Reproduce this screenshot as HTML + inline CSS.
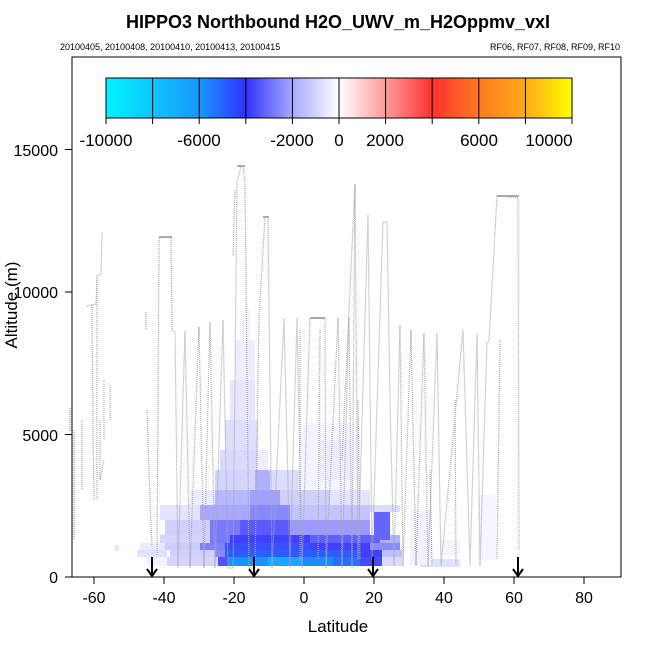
<!DOCTYPE html>
<html><head><meta charset="utf-8"><style>
html,body{margin:0;padding:0;background:#fff;}
svg{display:block;font-family:"Liberation Sans",sans-serif;}
</style></head><body>
<svg width="650" height="650" viewBox="0 0 650 650" xmlns="http://www.w3.org/2000/svg">
<defs>
<linearGradient id="cb" x1="106" x2="572" y1="0" y2="0" gradientUnits="userSpaceOnUse">
<stop offset="0" stop-color="#00f4ff"/>
<stop offset="0.2" stop-color="#1898ff"/>
<stop offset="0.3" stop-color="#3030ff"/>
<stop offset="0.4" stop-color="#a8a8ff"/>
<stop offset="0.5" stop-color="#ffffff"/>
<stop offset="0.6" stop-color="#ff9a9a"/>
<stop offset="0.7" stop-color="#ff3030"/>
<stop offset="0.8" stop-color="#ff7a20"/>
<stop offset="0.9" stop-color="#ffaa18"/>
<stop offset="1" stop-color="#ffff00"/>
</linearGradient>
</defs>
<rect width="650" height="650" fill="#fff"/>
<text x="338" y="28" text-anchor="middle" font-size="18" font-weight="bold">HIPPO3 Northbound H2O_UWV_m_H2Oppmv_vxI</text>
<text x="60" y="50" font-size="9">20100405, 20100408, 20100410, 20100413, 20100415</text>
<text x="620" y="50" text-anchor="end" font-size="9">RF06, RF07, RF08, RF09, RF10</text>

<!-- heatmap -->
<g shape-rendering="crispEdges">
<rect x="115" y="545" width="4" height="6" fill="#e6e6ff"/>
<rect x="137" y="550" width="30" height="7" fill="#e0e0ff"/>
<rect x="147" y="557" width="20" height="9" fill="#f2f2ff"/>
<rect x="167" y="557" width="51" height="9" fill="#d4d4ff"/>
<rect x="218" y="557" width="10" height="9" fill="#5050ff"/>
<rect x="228" y="557" width="40" height="9" fill="#2090ff"/>
<rect x="268" y="557" width="35" height="9" fill="#18a8ff"/>
<rect x="303" y="557" width="30" height="9" fill="#2088ff"/>
<rect x="333" y="557" width="27" height="9" fill="#2a6cff"/>
<rect x="360" y="557" width="22" height="9" fill="#4848ff"/>
<rect x="382" y="557" width="20" height="9" fill="#dcdcff"/>
<rect x="420" y="559" width="40" height="8" fill="#e0e0ff"/>
<rect x="170" y="550" width="45" height="7" fill="#d0d0ff"/>
<rect x="215" y="550" width="10" height="7" fill="#8888ff"/>
<rect x="225" y="550" width="135" height="7" fill="#2a5cff"/>
<rect x="360" y="550" width="22" height="7" fill="#4040ff"/>
<rect x="382" y="550" width="20" height="7" fill="#c0c0ff"/>
<rect x="140" y="543" width="25" height="7" fill="#eaeaff"/>
<rect x="165" y="543" width="35" height="7" fill="#ccccff"/>
<rect x="200" y="543" width="25" height="7" fill="#8080ff"/>
<rect x="225" y="543" width="85" height="7" fill="#3a50ff"/>
<rect x="310" y="543" width="60" height="7" fill="#4040ff"/>
<rect x="370" y="543" width="30" height="7" fill="#8a8aff"/>
<rect x="160" y="535" width="50" height="8" fill="#d4d4ff"/>
<rect x="210" y="535" width="20" height="8" fill="#7878ff"/>
<rect x="230" y="535" width="80" height="8" fill="#4040ff"/>
<rect x="310" y="535" width="70" height="8" fill="#6060ff"/>
<rect x="380" y="535" width="20" height="8" fill="#b0b0ff"/>
<rect x="165" y="520" width="45" height="15" fill="#d0d0ff"/>
<rect x="210" y="520" width="30" height="15" fill="#7a7aff"/>
<rect x="240" y="520" width="50" height="15" fill="#5a5aff"/>
<rect x="290" y="520" width="80" height="15" fill="#9a9aff"/>
<rect x="374" y="512" width="16" height="28" fill="#6666ff"/>
<rect x="370" y="505" width="30" height="7" fill="#dcdcff"/>
<rect x="160" y="505" width="40" height="15" fill="#e4e4ff"/>
<rect x="200" y="505" width="50" height="15" fill="#a8a8ff"/>
<rect x="250" y="505" width="40" height="15" fill="#8888ff"/>
<rect x="290" y="505" width="80" height="15" fill="#c4c4ff"/>
<rect x="190" y="490" width="25" height="15" fill="#ececff"/>
<rect x="215" y="490" width="35" height="15" fill="#b8b8ff"/>
<rect x="250" y="490" width="30" height="15" fill="#a0a0ff"/>
<rect x="280" y="490" width="50" height="15" fill="#d0d0ff"/>
<rect x="330" y="490" width="40" height="15" fill="#e4e4ff"/>
<rect x="215" y="470" width="40" height="20" fill="#d4d4ff"/>
<rect x="255" y="470" width="15" height="20" fill="#b0b0ff"/>
<rect x="270" y="470" width="30" height="20" fill="#dcdcff"/>
<rect x="300" y="470" width="25" height="20" fill="#f2f2ff"/>
<rect x="220" y="450" width="38" height="20" fill="#dadaff"/>
<rect x="258" y="450" width="10" height="20" fill="#eeeeff"/>
<rect x="225" y="420" width="33" height="30" fill="#dedeff"/>
<rect x="230" y="380" width="25" height="40" fill="#e6e6ff"/>
<rect x="235" y="340" width="20" height="40" fill="#eeeeff"/>
<rect x="240" y="310" width="10" height="30" fill="#f4f4ff"/>
<rect x="300" y="423" width="60" height="67" fill="#f4f4ff"/>
<rect x="320" y="440" width="30" height="40" fill="#ececff"/>
<rect x="410" y="510" width="22" height="55" fill="#f2f2ff"/>
<rect x="478" y="495" width="18" height="65" fill="#f6f6ff"/>
<rect x="440" y="540" width="20" height="15" fill="#f4f4ff"/>
</g>

<!-- flight paths -->
<g fill="none" stroke="#a8a8a8" stroke-width="1.2" stroke-dasharray="1 1">
<polyline points="157,555 159,238 171,237 172,330 175,332 178,568 185,331 190,568 199,327 204,568 210,322 215,568 223,320 228,568 233,568 237,183 241,166 243,166 245,183 249,568 255,568 259,318 262,268 265,217 268,217 272,568 284,318 290,568 297,318 302,568 310,318 325,318 326,568 338,318 342,568 349,318 352,568 355,184 358,560 368,214 372,560 383,222 387,222 390,400 394,566 400,325 403,566 411,330 416,566 424,333 428,566 437,333 441,566 463,330 470,566 477,334 480,566 487,343 489,341 497,195 499,196 518,198 519,550"/>
<polyline points="87,306 96,304 97,276 101,274 102,232"/>
<polyline points="97,276 97,500"/>
<polyline points="92,305 93,430 94,500"/>
<polyline points="70,408 70,432"/>
<polyline points="74,430 74,540"/>
<polyline points="82,420 82,490"/>
<polyline points="100,420 100,480 104,460"/>
<polyline points="104,380 104,440"/>
<polyline points="110,385 110,420"/>
<polyline points="146,312 146,330"/>
<polyline points="147,410 150,500 152,545"/>
<polyline points="233,255 235,190"/>
<polyline points="342,460 355,184"/>
<polyline points="300,330 300,560"/>
<polyline points="320,330 318,560"/>
<polyline points="358,400 360,560"/>
<polyline points="430,470 432,566"/>
<polyline points="455,400 456,566"/>
<polyline points="500,340 497,560"/>
</g>
<g fill="#aaa" stroke="none">
<rect x="159" y="236" width="13" height="2"/>
<rect x="237" y="165" width="8" height="2"/>
<rect x="263" y="216" width="6" height="2"/>
<rect x="310" y="317" width="15" height="2"/>
<rect x="497" y="195" width="22" height="2"/>
</g>

<!-- arrows -->
<g stroke="#000" stroke-width="2" fill="none">
<path d="M152,557 V576 M147,569 L152,576 L157,569"/>
<path d="M254,557 V576 M249,569 L254,576 L259,569"/>
<path d="M373,557 V576 M368,569 L373,576 L378,569"/>
<path d="M518,557 V576 M513,569 L518,576 L523,569"/>
</g>

<!-- colorbar -->
<rect x="106" y="78" width="466" height="40" fill="url(#cb)" stroke="#000" stroke-width="1"/>
<g stroke="#000" stroke-width="1">
<path d="M152.6,78V124 M199.2,78V124 M245.8,78V124 M292.4,78V124 M339,78V124 M385.6,78V124 M432.2,78V124 M478.8,78V124 M525.4,78V124 M106,118V124 M572,118V124"/>
</g>
<g font-size="17" text-anchor="middle">
<text x="106" y="146">-10000</text>
<text x="199" y="146">-6000</text>
<text x="292" y="146">-2000</text>
<text x="339" y="146">0</text>
<text x="385" y="146">2000</text>
<text x="479" y="146">6000</text>
<text x="549" y="146">10000</text>
</g>

<!-- plot box -->
<rect x="72" y="57" width="549" height="520" fill="none" stroke="#000" stroke-width="1"/>
<g stroke="#000" stroke-width="1">
<path d="M94,577V584 M164,577V584 M234,577V584 M304,577V584 M374,577V584 M444,577V584 M514,577V584 M584,577V584"/>
<path d="M72,577H65 M72,434.5H65 M72,292H65 M72,149.5H65"/>
</g>
<g font-size="16" text-anchor="middle">
<text x="94" y="603">-60</text>
<text x="164" y="603">-40</text>
<text x="234" y="603">-20</text>
<text x="304" y="603">0</text>
<text x="374" y="603">20</text>
<text x="444" y="603">40</text>
<text x="514" y="603">60</text>
<text x="584" y="603">80</text>
</g>
<g font-size="16" text-anchor="end">
<text x="58" y="583">0</text>
<text x="58" y="441">5000</text>
<text x="58" y="298">10000</text>
<text x="58" y="156">15000</text>
</g>
<text x="338" y="632" text-anchor="middle" font-size="17">Latitude</text>
<text transform="translate(17,305) rotate(-90)" text-anchor="middle" font-size="17">Altitude (m)</text>
</svg>
</body></html>
